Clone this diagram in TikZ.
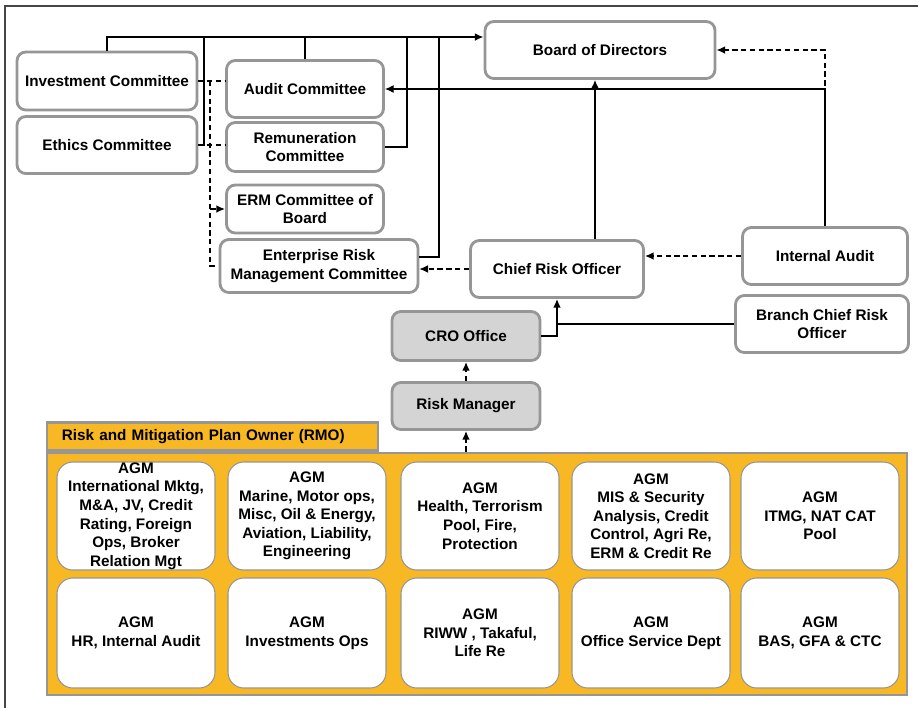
\documentclass[tikz,border=0pt]{standalone}
\usepackage{fontspec}
\setmainfont{Liberation Sans}
\usepackage{tikz}
\usetikzlibrary{positioning,arrows.meta}

\definecolor{boxgray}{RGB}{150,150,150}
\definecolor{rmoorange}{RGB}{247,184,36}
\definecolor{officegray}{RGB}{212,212,213}
\definecolor{framegray}{RGB}{70,70,70}

\begin{document}
\begin{tikzpicture}[x=0.02cm,y=-0.02cm,
	box/.style={draw=boxgray,line width=1.6pt,rounded corners=5pt,fill=white,align=center,
		font=\fontsize{8.7}{10.5}\selectfont\bfseries,inner sep=1pt},
	office/.style={box,fill=officegray},
	cell/.style={draw=boxgray,line width=0.6pt,rounded corners=9pt,fill=white,align=center,
		font=\fontsize{8.7}{10.6}\selectfont\bfseries,inner sep=0pt,
		minimum width=3.16cm},
	bus/.style={draw=black,line width=1.1pt},
	link/.style={draw=black,line width=0.7pt},
	dashthin/.style={draw=black,line width=0.6pt,dash pattern=on 3pt off 2pt},
	dashthick/.style={draw=black,line width=1.1pt,dash pattern=on 3pt off 2pt},
	tip/.style={-{Latex[length=5pt,width=4.5pt]}}]
	\useasboundingbox (0,0) rectangle (919,708);
	\draw[framegray,line width=0.8pt] (5,708) -- (5,6) -- (918,6);

	% board level
	\node[box,minimum width=4.6cm,minimum height=1.14cm] (board) at (600,50) {Board of Directors};
	\node[box,minimum width=3.6cm,minimum height=1.16cm] (invc) at (107,81) {Investment Committee};
	\node[box,minimum width=3.6cm,minimum height=1.14cm] (ethc) at (107,145) {Ethics Committee};
	\node[box,minimum width=3.14cm,minimum height=1.14cm] (audc) at (305,89) {Audit Committee};
	\node[box,minimum width=3.14cm,minimum height=0.98cm] (remc) at (305,147) {Remuneration\\Committee};
	\node[box,minimum width=3.14cm,minimum height=0.96cm] (ermb) at (305,209) {ERM Committee of\\Board};
	\node[box,minimum width=3.96cm,minimum height=1.06cm] (ermc) at (319,266) {Enterprise Risk\\Management Committee};
	\node[box,minimum width=3.46cm,minimum height=1.14cm] (cro) at (557,269) {Chief Risk Officer};
	\node[box,minimum width=3.3cm,minimum height=1.14cm] (iaud) at (825,256) {Internal Audit};
	\node[box,minimum width=3.46cm,minimum height=1.14cm] (bcro) at (822,324) {Branch Chief Risk\\Officer};
	\node[office,minimum width=2.96cm,minimum height=0.98cm] (croo) at (466,336) {CRO Office};
	\node[office,minimum width=2.96cm,minimum height=0.94cm] (rman) at (466,406) {Risk Manager};

	% risk owners
	\node[draw=boxgray,line width=1.6pt,fill=rmoorange,minimum width=17.2cm,minimum height=4.84cm] (rmo) at (477,574) {};
	\node[draw=boxgray,line width=1.4pt,fill=rmoorange,anchor=south west,inner xsep=0.3cm,
		text width=6.02cm,minimum height=0.56cm,font=\fontsize{8.7}{10.5}\selectfont\bfseries] (rmohead)
		at (rmo.north west) {Risk and Mitigation Plan Owner (RMO)};
	\node[cell,minimum height=2.16cm] (agm1) at (136,516) {AGM\\International Mktg,\\M\&A, JV, Credit\\Rating, Foreign\\Ops, Broker\\Relation Mgt};
	\node[cell,minimum height=2.16cm] (agm2) at (307,516) {AGM\\Marine, Motor ops,\\Misc, Oil \& Energy,\\Aviation, Liability,\\Engineering};
	\node[cell,minimum height=2.16cm] (agm3) at (480,516) {AGM\\Health, Terrorism\\Pool, Fire,\\Protection};
	\node[cell,minimum height=2.16cm] (agm4) at (651,516) {AGM\\MIS \& Security\\Analysis, Credit\\Control, Agri Re,\\ERM \& Credit Re};
	\node[cell,minimum height=2.16cm] (agm5) at (820,516) {AGM\\ITMG, NAT CAT\\Pool};
	\node[cell,minimum height=2.2cm] (agm6) at (136,633) {AGM\\HR, Internal Audit};
	\node[cell,minimum height=2.2cm] (agm7) at (307,633) {AGM\\Investments Ops};
	\node[cell,minimum height=2.2cm] (agm8) at (480,633) {AGM\\RIWW , Takaful,\\Life Re};
	\node[cell,minimum height=2.2cm] (agm9) at (651,633) {AGM\\Office Service Dept};
	\node[cell,minimum height=2.2cm] (agm10) at (820,633) {AGM\\BAS, GFA \& CTC};

	% lines to the board
	\coordinate (j1) at (204,37);
	\coordinate (j2) at (306,37);
	\coordinate (j3) at (407,37);
	\coordinate (j4) at (439,37);
	\draw[bus,tip] (invc.north) |- ([yshift=0.26cm]board.west);
	\draw[bus] (ethc.east) -| (j1);
	\draw[bus] (audc.north) |- (j2);
	\draw[bus] (remc.east) -| (j3);
	\draw[bus] ([yshift=0.18cm]ermc.east) -| (j4);
	\draw[link,tip] ([xshift=0.76cm]cro.north) coordinate (c1) -- (c1 |- board.south);
	\draw[link,tip] (iaud.north) |- (audc.east);
	\draw[dashthick,tip] (iaud.north) |- (board.east);

	% risk lines
	\draw[dashthick,tip] (iaud.west) -- (iaud.west -| cro.east);
	\draw[dashthin,tip] (cro.west) -- (cro.west -| ermc.east);
	\draw[bus,tip] (croo.east) -| (cro.south);
	\draw[link] (bcro.west) -- (bcro.west -| cro.south);
	\draw[dashthick,tip] (rman.north) -- (croo.south);
	\draw[dashthick,tip] (rman.south |- rmo.north) -- (rman.south);

	% committees
	\draw[dashthin] (invc.east) -- (invc.east -| audc.west);
	\draw[dashthick] (ethc.east) -- (ethc.east -| remc.west);
	\draw[dashthick] ([xshift=0.24cm]invc.east) coordinate (d1) |- (ermc.west);
	\draw[dashthick,tip] (d1 |- ermb.west) -- (ermb.west);
\end{tikzpicture}
\end{document}
